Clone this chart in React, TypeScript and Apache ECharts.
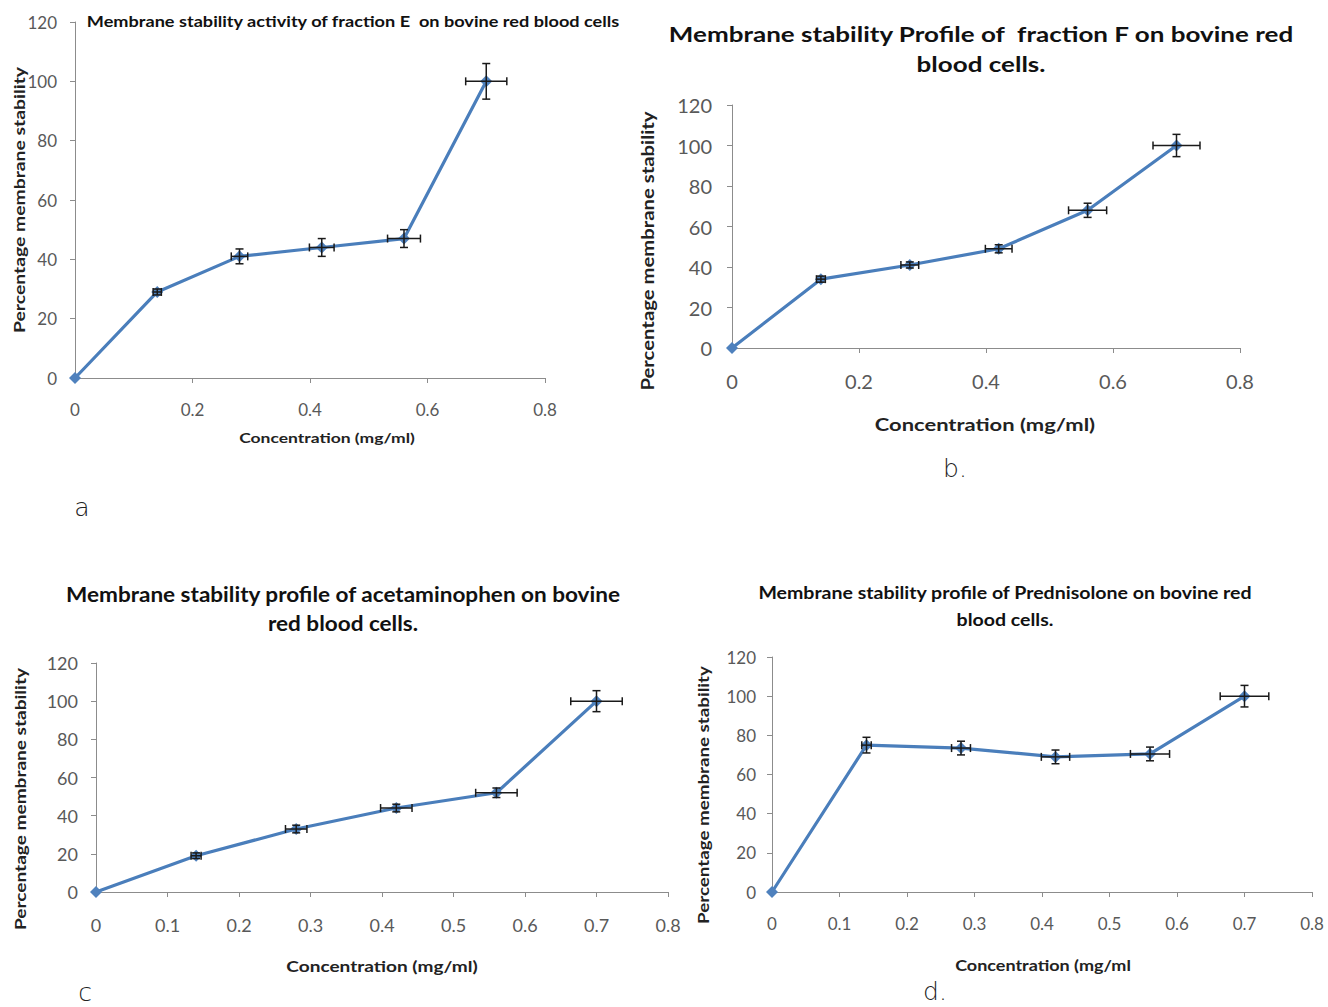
import React, { useEffect, useRef } from "react";
import * as echarts from "echarts";

const concentrations = [0, 0.14, 0.28, 0.42, 0.56, 0.7];

const stabilityE = [0, 29, 41, 44, 47, 100];
const errYE = [0, 1, 2.5, 3, 3, 6];
const errXE = [0, 0.007, 0.014, 0.021, 0.028, 0.035];

const stabilityF = [0, 34, 41, 49, 68, 100];
const errYF = [0, 1.5, 1.5, 2, 3.5, 5.5];
const errXF = [0, 0.007, 0.014, 0.021, 0.03, 0.037];

const stabilityAcet = [0, 19, 33, 44, 52, 100];
const errYAcet = [0, 1.5, 2, 2, 2.5, 5.5];
const errXAcet = [0, 0.007, 0.015, 0.022, 0.029, 0.036];

const stabilityPred = [0, 75, 73.5, 69, 70.5, 100];
const errYPred = [0, 4, 3.5, 3.5, 3.5, 5.5];
const errXPred = [0, 0.007, 0.014, 0.021, 0.029, 0.036];

const titles = [
  "Membrane stability activity of fraction E  on bovine red blood cells",
  "Membrane stability Profile of  fraction F on bovine red\nblood cells.",
  "Membrane stability profile of acetaminophen on bovine\nred blood cells.",
  "Membrane stability profile of Prednisolone on bovine red\nblood cells.",
];
const xNames = [
  "Concentration (mg/ml)",
  "Concentration (mg/ml)",
  "Concentration (mg/ml)",
  "Concentration (mg/ml",
];
const yName = "Percentage membrane stability";
const panelLetters = ["a", "b.", "c", "d."];

const FONT = 'Lato, "Open Sans", sans-serif';

const panels = [
  {
    ys: stabilityE, ey: errYE, ex: errXE, xInterval: 0.2,
    grid: { left: 75, top: 22, width: 470, height: 356 },
    tickFont: 17, labelMarginX: 23, labelMarginY: 18,
    title: { x: 353, y: 21, size: 15.5, lh: 20, sx: 1.17 },
    xName: { x: 327, y: 437, size: 14, sx: 1.25 },
    yName: { x: 19, y: 200, size: 15, sx: 1.29 },
    letter: { x: 82, y: 507 },
  },
  {
    ys: stabilityF, ey: errYF, ex: errXF, xInterval: 0.2,
    grid: { left: 732, top: 105, width: 508, height: 243 },
    tickFont: 20, labelMarginX: 23, labelMarginY: 20,
    title: { x: 981, y: 48, size: 21.5, lh: 30, sx: 1.21 },
    xName: { x: 985, y: 425, size: 17, sx: 1.29 },
    yName: { x: 648, y: 251, size: 16.5, sx: 1.23 },
    letter: { x: 955, y: 468 },
  },
  {
    ys: stabilityAcet, ey: errYAcet, ex: errXAcet, xInterval: 0.1,
    grid: { left: 96, top: 663, width: 572, height: 229 },
    tickFont: 18, labelMarginX: 24, labelMarginY: 18,
    title: { x: 343, y: 609, size: 20.5, lh: 29, sx: 1.1 },
    xName: { x: 382, y: 966, size: 16, sx: 1.19 },
    yName: { x: 20, y: 799, size: 15.5, sx: 1.23 },
    letter: { x: 85, y: 992 },
  },
  {
    ys: stabilityPred, ey: errYPred, ex: errXPred, xInterval: 0.1,
    grid: { left: 772, top: 657, width: 540, height: 235 },
    tickFont: 17, labelMarginX: 23, labelMarginY: 16,
    title: { x: 1005, y: 606, size: 17, lh: 28, sx: 1.15 },
    xName: { x: 1043, y: 966, size: 15, sx: 1.2 },
    yName: { x: 703, y: 795, size: 15, sx: 1.25 },
    letter: { x: 935, y: 991 },
  },
];

function renderErrorBar(params: any, api: any) {
  const x = api.value(0);
  const y = api.value(1);
  const ey = api.value(2);
  const ex = api.value(3);
  const children: any[] = [];
  const style = { stroke: "#1a1a1a", lineWidth: 1.5 };
  const cap = 4;
  if (ey > 0) {
    const t = api.coord([x, y + ey]);
    const b = api.coord([x, y - ey]);
    children.push({ type: "line", shape: { x1: t[0], y1: t[1], x2: b[0], y2: b[1] }, style });
    children.push({ type: "line", shape: { x1: t[0] - cap, y1: t[1], x2: t[0] + cap, y2: t[1] }, style });
    children.push({ type: "line", shape: { x1: b[0] - cap, y1: b[1], x2: b[0] + cap, y2: b[1] }, style });
  }
  if (ex > 0) {
    const l = api.coord([x - ex, y]);
    const r = api.coord([x + ex, y]);
    children.push({ type: "line", shape: { x1: l[0], y1: l[1], x2: r[0], y2: r[1] }, style });
    children.push({ type: "line", shape: { x1: l[0], y1: l[1] - cap, x2: l[0], y2: l[1] + cap }, style });
    children.push({ type: "line", shape: { x1: r[0], y1: r[1] - cap, x2: r[0], y2: r[1] + cap }, style });
  }
  return { type: "group", children };
}

export default function App() {
  const ref = useRef<HTMLDivElement>(null);
  useEffect(() => {
    if (!ref.current) return;
    const chart = echarts.init(ref.current, undefined, { renderer: "svg" });
    const axisColor = "#8c8c8c";
    const grids = panels.map((p) => ({ ...p.grid, containLabel: false }));
    const xAxes = panels.map((p, i) => ({
      type: "value",
      gridIndex: i,
      min: 0,
      max: 0.8,
      interval: p.xInterval,
      axisLine: { show: true, lineStyle: { color: axisColor, width: 1 } },
      axisTick: { show: true, length: 5, lineStyle: { color: axisColor } },
      splitLine: { show: false },
      axisLabel: { fontSize: p.tickFont, color: "#595959", margin: p.labelMarginX, fontFamily: FONT },
    }));
    const yAxes = panels.map((p, i) => ({
      type: "value",
      gridIndex: i,
      min: 0,
      max: 120,
      interval: 20,
      axisLine: { show: true, lineStyle: { color: axisColor, width: 1 } },
      axisTick: { show: true, length: 5, lineStyle: { color: axisColor } },
      splitLine: { show: false },
      axisLabel: { fontSize: p.tickFont, color: "#595959", margin: p.labelMarginY, fontFamily: FONT },
    }));
    const series: any[] = [];
    panels.forEach((p, i) => {
      series.push({
        type: "line",
        xAxisIndex: i,
        yAxisIndex: i,
        data: concentrations.map((c, k) => [c, p.ys[k]]),
        symbol: "diamond",
        symbolSize: 12,
        showSymbol: true,
        lineStyle: { color: "#4a7ebb", width: 3.2 },
        itemStyle: { color: "#4f81bd" },
        z: 2,
      });
      series.push({
        type: "custom",
        xAxisIndex: i,
        yAxisIndex: i,
        data: concentrations.map((c, k) => [c, p.ys[k], p.ey[k], p.ex[k]]),
        encode: { x: 0, y: 1 },
        renderItem: renderErrorBar,
        clip: false,
        z: 3,
      });
    });
    const graphics: any[] = [];
    panels.forEach((p, i) => {
      graphics.push({
        type: "text",
        x: p.title.x,
        y: p.title.y,
        scaleX: p.title.sx,
        style: {
          text: titles[i],
          font: `bold ${p.title.size}px ${FONT}`,
          fill: "#111",
          align: "center",
          verticalAlign: "middle",
          lineHeight: p.title.lh,
        },
      });
      graphics.push({
        type: "text",
        x: p.xName.x,
        y: p.xName.y,
        scaleX: p.xName.sx,
        style: {
          text: xNames[i],
          font: `bold ${p.xName.size}px ${FONT}`,
          fill: "#222",
          align: "center",
          verticalAlign: "middle",
        },
      });
      graphics.push({
        type: "text",
        x: p.yName.x,
        y: p.yName.y,
        rotation: Math.PI / 2,
        scaleX: p.yName.sx,
        style: {
          text: yName,
          font: `bold ${p.yName.size}px ${FONT}`,
          fill: "#222",
          align: "center",
          verticalAlign: "middle",
        },
      });
      graphics.push({
        type: "text",
        x: p.letter.x,
        y: p.letter.y,
        style: {
          text: panelLetters[i],
          font: `300 25px "DejaVu Sans", sans-serif`,
          fill: "#222",
          align: "center",
          verticalAlign: "middle",
        },
      });
    });
    chart.setOption({
      animation: false,
      backgroundColor: "#ffffff",
      grid: grids,
      xAxis: xAxes,
      yAxis: yAxes,
      series,
      graphic: graphics,
    });
    return () => chart.dispose();
  }, []);
  return (
    <div
      ref={ref}
      style={{ position: "fixed", left: 0, top: 0, width: 1328, height: 1007, background: "#fff" }}
    />
  );
}
